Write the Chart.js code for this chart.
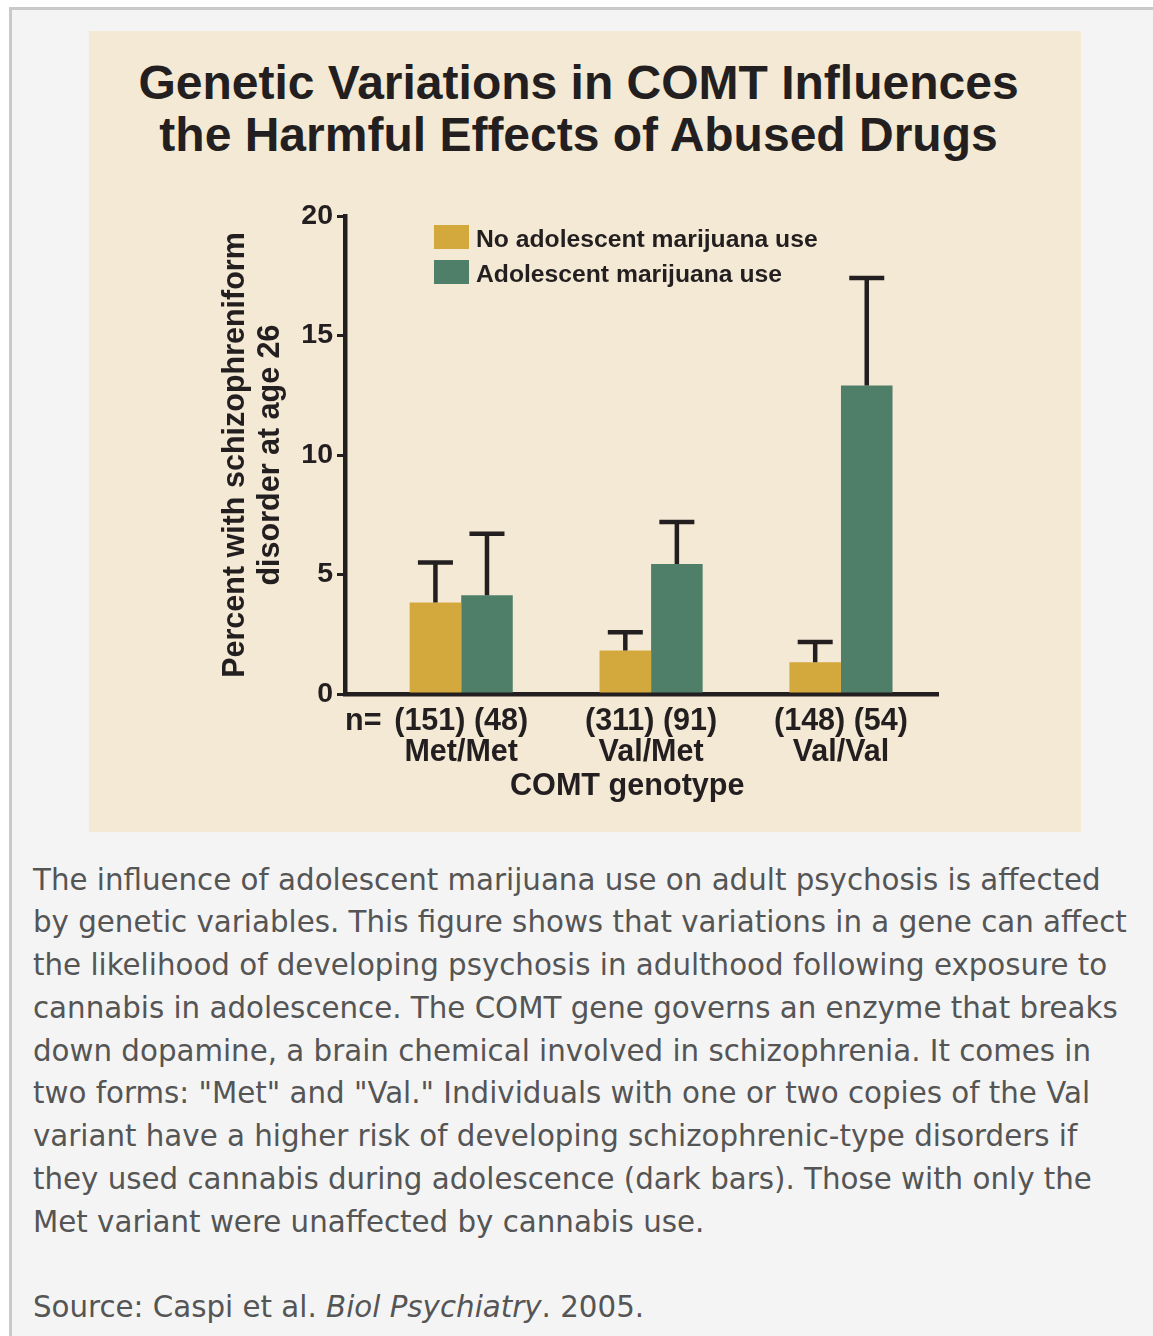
<!DOCTYPE html>
<html>
<head>
<meta charset="utf-8">
<script src="https://cdn.jsdelivr.net/npm/chart.js@4/dist/chart.umd.min.js"></script>
<style>
  html, body { margin: 0; padding: 0; background: #ffffff; width: 1153px; height: 1336px; overflow: hidden; }
  #frame { position: absolute; left: 9px; top: 7px; width: 1200px; height: 1400px;
           border-left: 3px solid #c9c9c9; border-top: 3px solid #c9c9c9; background: #f4f4f4; }
  #panel { position: absolute; left: 89px; top: 31px; width: 992px; height: 801px; background: #f4e9d4; }
  #title { position: absolute; left: 0; top: 26px; width: 979px; margin: 0; text-align: center;
           font: bold 48px/52px "Liberation Sans", Arial, Helvetica, sans-serif; color: #231f20; }
  #chartwrap { position: absolute; left: 0; top: 160px; width: 992px; height: 640px; }
  #legend { position: absolute; left: 345px; top: 188.5px; margin: 0; padding: 0; list-style: none; }
  #legend li { display: flex; align-items: center; height: 35px; }
  #legend .box { display: inline-block; width: 35px; height: 24px; margin-right: 7px; }
  #legend .txt { font: bold 24.7px/24px "Liberation Sans", Arial, Helvetica, sans-serif; color: #231f20; white-space: nowrap; position: relative; top: 2px; }
  .caption { position: absolute; left: 33px; margin: 0; white-space: nowrap;
             font: 29.3px/42.75px "DejaVu Sans", sans-serif; color: #555555; }
</style>
</head>
<body>
<div id="frame"></div>
<div id="panel">
  <h1 id="title">Genetic Variations in COMT Influences<br>the Harmful Effects of Abused Drugs</h1>
  <div id="chartwrap"><canvas id="chart" width="992" height="640"></canvas></div>
  <ul id="legend"></ul>
</div>
<div class="caption" style="top:858.6px;">The influence of adolescent marijuana use on adult psychosis is affected<br>by genetic variables. This figure shows that variations in a gene can affect<br>the likelihood of developing psychosis in adulthood following exposure to<br>cannabis in adolescence. The COMT gene governs an enzyme that breaks<br>down dopamine, a brain chemical involved in schizophrenia. It comes in<br>two forms: "Met" and "Val." Individuals with one or two copies of the Val<br>variant have a higher risk of developing schizophrenic-type disorders if<br>they used cannabis during adolescence (dark bars). Those with only the<br>Met variant were unaffected by cannabis use.</div>
<div class="caption" style="top:1286.1px;">Source: Caspi et al. <i>Biol Psychiatry</i>. 2005.</div>

<script>
// ---- data ----
const genotypes = ['Met/Met', 'Val/Met', 'Val/Val'];
const sampleSizes = ['(151) (48)', '(311) (91)', '(148) (54)'];
const nPrefix = 'n=';
const seriesLabels = ['No adolescent marijuana use', 'Adolescent marijuana use'];
const noUseValues = [3.83, 1.82, 1.33];
const useValues = [4.13, 5.44, 12.91];
const noUseErrorTop = [5.50, 2.58, 2.18];
const useErrorTop = [6.70, 7.20, 17.41];
const yTicks = [0, 5, 10, 15, 20];
const xTitle = 'COMT genotype';
const yTitle = ['Percent with schizophreniform', 'disorder at age 26'];

const GOLD = '#d3a93d';
const GREEN = '#4f7e69';
const INK = '#231f20';
const FONT = '"Liberation Sans", Arial, Helvetica, sans-serif';
const LABEL_SIZE = 30.5;
const LABEL_LH = 31;

const errorTops = [noUseErrorTop, useErrorTop];

const errorBarPlugin = {
  id: 'errorBars',
  afterDatasetsDraw(chart) {
    const ctx = chart.ctx;
    const y = chart.scales.y;
    ctx.save();
    ctx.strokeStyle = INK;
    ctx.lineWidth = 4.5;
    ctx.lineCap = 'butt';
    chart.data.datasets.forEach((ds, di) => {
      const meta = chart.getDatasetMeta(di);
      meta.data.forEach((bar, i) => {
        const top = y.getPixelForValue(errorTops[di][i]);
        ctx.beginPath();
        ctx.moveTo(bar.x, bar.y);
        ctx.lineTo(bar.x, top);
        ctx.moveTo(bar.x - 17.5, top);
        ctx.lineTo(bar.x + 17.5, top);
        ctx.stroke();
      });
    });
    ctx.restore();
  }
};

// "n=" prefix on the first label row, and the x-axis title
const xTextPlugin = {
  id: 'xText',
  afterDraw(chart) {
    const ctx = chart.ctx;
    const xs = chart.scales.x;
    const area = chart.chartArea;
    const t = xs.options.ticks;
    ctx.save();
    ctx.fillStyle = INK;
    ctx.textBaseline = 'middle';
    ctx.font = 'bold ' + LABEL_SIZE + 'px ' + FONT;
    ctx.textAlign = 'left';
    ctx.fillText(nPrefix, area.left, xs.top + t.padding + LABEL_LH / 2);
    ctx.font = 'bold 30.6px ' + FONT;
    ctx.textAlign = 'center';
    ctx.fillText(xTitle, area.left + area.width * 0.476, xs.bottom - 44.5);
    ctx.restore();
  }
};

const chart = new Chart(document.getElementById('chart'), {
  type: 'bar',
  data: {
    datasets: [
      { label: seriesLabels[0], data: noUseValues.map((v, i) => ({ x: i, y: v })), backgroundColor: GOLD, borderWidth: 0 },
      { label: seriesLabels[1], data: useValues.map((v, i) => ({ x: i, y: v })), backgroundColor: GREEN, borderWidth: 0 }
    ]
  },
  options: {
    responsive: false,
    devicePixelRatio: 1,
    animation: false,
    layout: { padding: { top: 25, right: 143, left: 0, bottom: 0 } },
    datasets: { bar: { categoryPercentage: 0.543, barPercentage: 1.0 } },
    plugins: { legend: { display: false }, tooltip: { enabled: false }, title: { display: false } },
    scales: {
      x: {
        type: 'linear',
        offset: false,
        min: -0.612,
        max: 2.511,
        afterFit(scale) { scale.height = 137; },
        afterBuildTicks(scale) { scale.ticks = genotypes.map((_, i) => ({ value: i })); },
        grid: { display: false, drawTicks: false, offset: false },
        border: { display: true, width: 4.5, color: INK },
        ticks: {
          autoSkip: false,
          maxRotation: 0,
          padding: 12,
          color: INK,
          font: { family: FONT, size: LABEL_SIZE, weight: 'bold', lineHeight: LABEL_LH / LABEL_SIZE },
          callback: (v) => [sampleSizes[v], genotypes[v]]
        },
        title: { display: false, text: xTitle }
      },
      y: {
        min: 0,
        max: 20,
        afterFit(scale) { scale.width = 256; },
        afterBuildTicks(scale) { scale.ticks = yTicks.map(v => ({ value: v })); },
        grid: { display: true, drawOnChartArea: false, drawTicks: true, tickLength: 8, lineWidth: 3, color: INK },
        border: { display: true, width: 4.5, color: INK },
        ticks: {
          padding: 4,
          color: INK,
          font: { family: FONT, size: 28.5, weight: 'bold' }
        },
        title: {
          display: true,
          text: yTitle,
          color: INK,
          font: { family: FONT, size: 30.5, weight: 'bold', lineHeight: 35 / 30.5 },
          padding: { top: 129, bottom: 0 }
        }
      }
    }
  },
  plugins: [errorBarPlugin, xTextPlugin]
});

// HTML legend built from the chart's own legend items
const legendEl = document.getElementById('legend');
const items = Chart.defaults.plugins.legend.labels.generateLabels(chart);
items.forEach(it => {
  const li = document.createElement('li');
  const box = document.createElement('span');
  box.className = 'box';
  box.style.background = it.fillStyle;
  const txt = document.createElement('span');
  txt.className = 'txt';
  txt.textContent = it.text;
  li.appendChild(box);
  li.appendChild(txt);
  legendEl.appendChild(li);
});
</script>
</body>
</html>
